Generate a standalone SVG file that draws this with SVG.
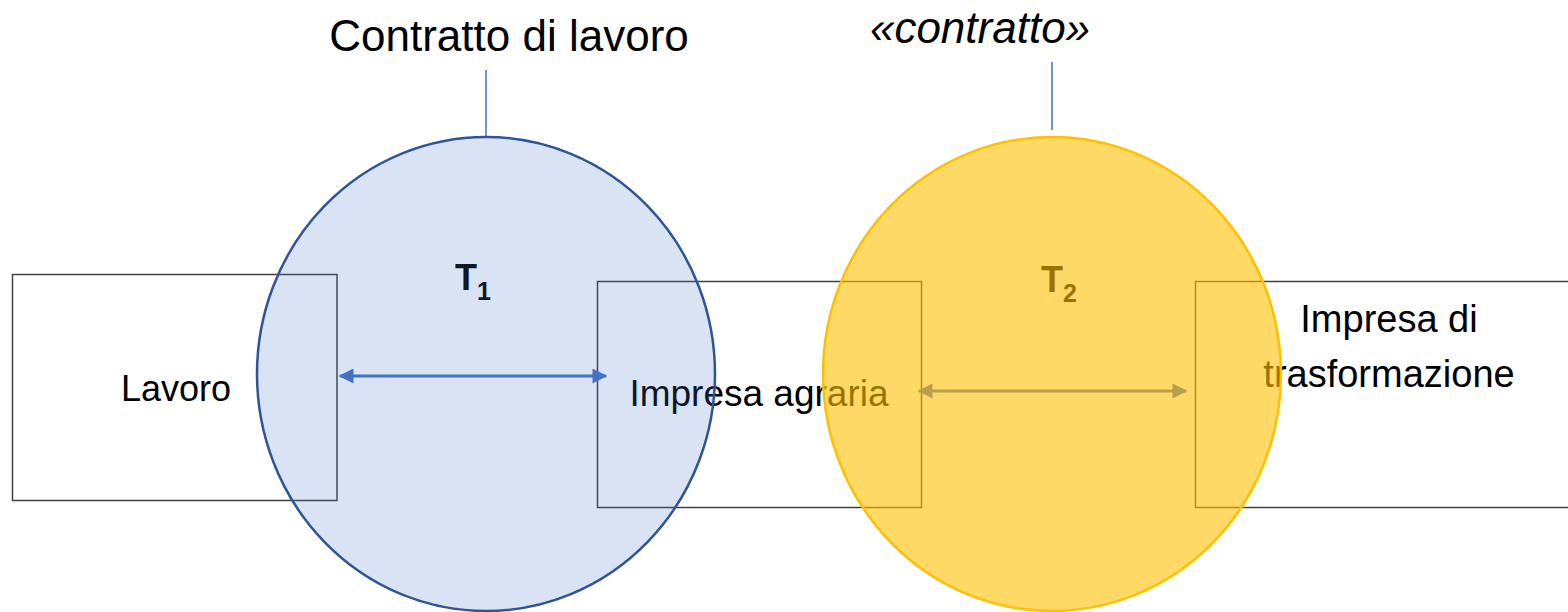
<svg xmlns="http://www.w3.org/2000/svg" width="1568" height="612" viewBox="0 0 1568 612">
<defs>
<style>
.box{fill:#ffffff;stroke:#404040;stroke-width:1.5}
.lbl{font-family:"Liberation Sans",Arial,sans-serif;fill:#000000}
.conn{stroke:#4472C4;stroke-width:3;fill:none}
.lead{stroke:#4472C4;stroke-width:1.5;fill:none}
.tl{font-family:"Liberation Sans",Arial,sans-serif;font-weight:bold}
</style>
<marker id="ah" viewBox="0 0 10 10" refX="9" refY="5" markerWidth="5.5" markerHeight="5" orient="auto-start-reverse" markerUnits="strokeWidth">
<path d="M0,0 L10,5 L0,10 z" fill="#4472C4"/>
</marker>
</defs>
<rect width="1568" height="612" fill="#ffffff"/>
<g id="lavoro">
<rect class="box" x="12.5" y="274.5" width="324.5" height="226"/>
<text class="lbl" x="176" y="401" font-size="36" text-anchor="middle">Lavoro</text>
</g>
<g id="impresa-agraria">
<rect class="box" x="597.5" y="281.5" width="324" height="226"/>
<text class="lbl" x="759" y="406" font-size="37" text-anchor="middle">Impresa agraria</text>
</g>
<g id="impresa-trasformazione">
<rect class="box" x="1195.5" y="281.5" width="400" height="226"/>
<text class="lbl" x="1389" y="332" font-size="38" text-anchor="middle">Impresa di</text>
<text class="lbl" x="1389" y="387" font-size="38" text-anchor="middle">trasformazione</text>
</g>
<g id="connectors">
<line class="conn" x1="340" y1="376" x2="606" y2="376" marker-start="url(#ah)" marker-end="url(#ah)"/>
<line class="conn" x1="919" y1="391" x2="1186" y2="391" marker-start="url(#ah)" marker-end="url(#ah)"/>
<line class="lead" x1="486" y1="70" x2="486" y2="137"/>
<line class="lead" x1="1052" y1="62" x2="1052" y2="130"/>
</g>
<g id="contratto-lavoro">
<ellipse cx="486" cy="374" rx="229" ry="237" fill="#4472C4" fill-opacity="0.2" stroke="#2F5597" stroke-width="2.5"/>
<text class="tl" x="455" y="290" font-size="36" fill="#0E1727">T<tspan font-size="25" dy="10">1</tspan></text>
<text class="lbl" x="509" y="51" font-size="44" text-anchor="middle">Contratto di lavoro</text>
</g>
<g id="contratto">
<ellipse cx="1052" cy="374" rx="229" ry="237" fill="#FFC000" fill-opacity="0.6" stroke="#FFC000" stroke-width="2.5"/>
<text class="tl" x="1041" y="292" font-size="36" fill="#997300">T<tspan font-size="25" dy="10">2</tspan></text>
<text class="lbl" x="980" y="43" font-size="44" font-style="italic" text-anchor="middle">«contratto»</text>
</g>
</svg>
